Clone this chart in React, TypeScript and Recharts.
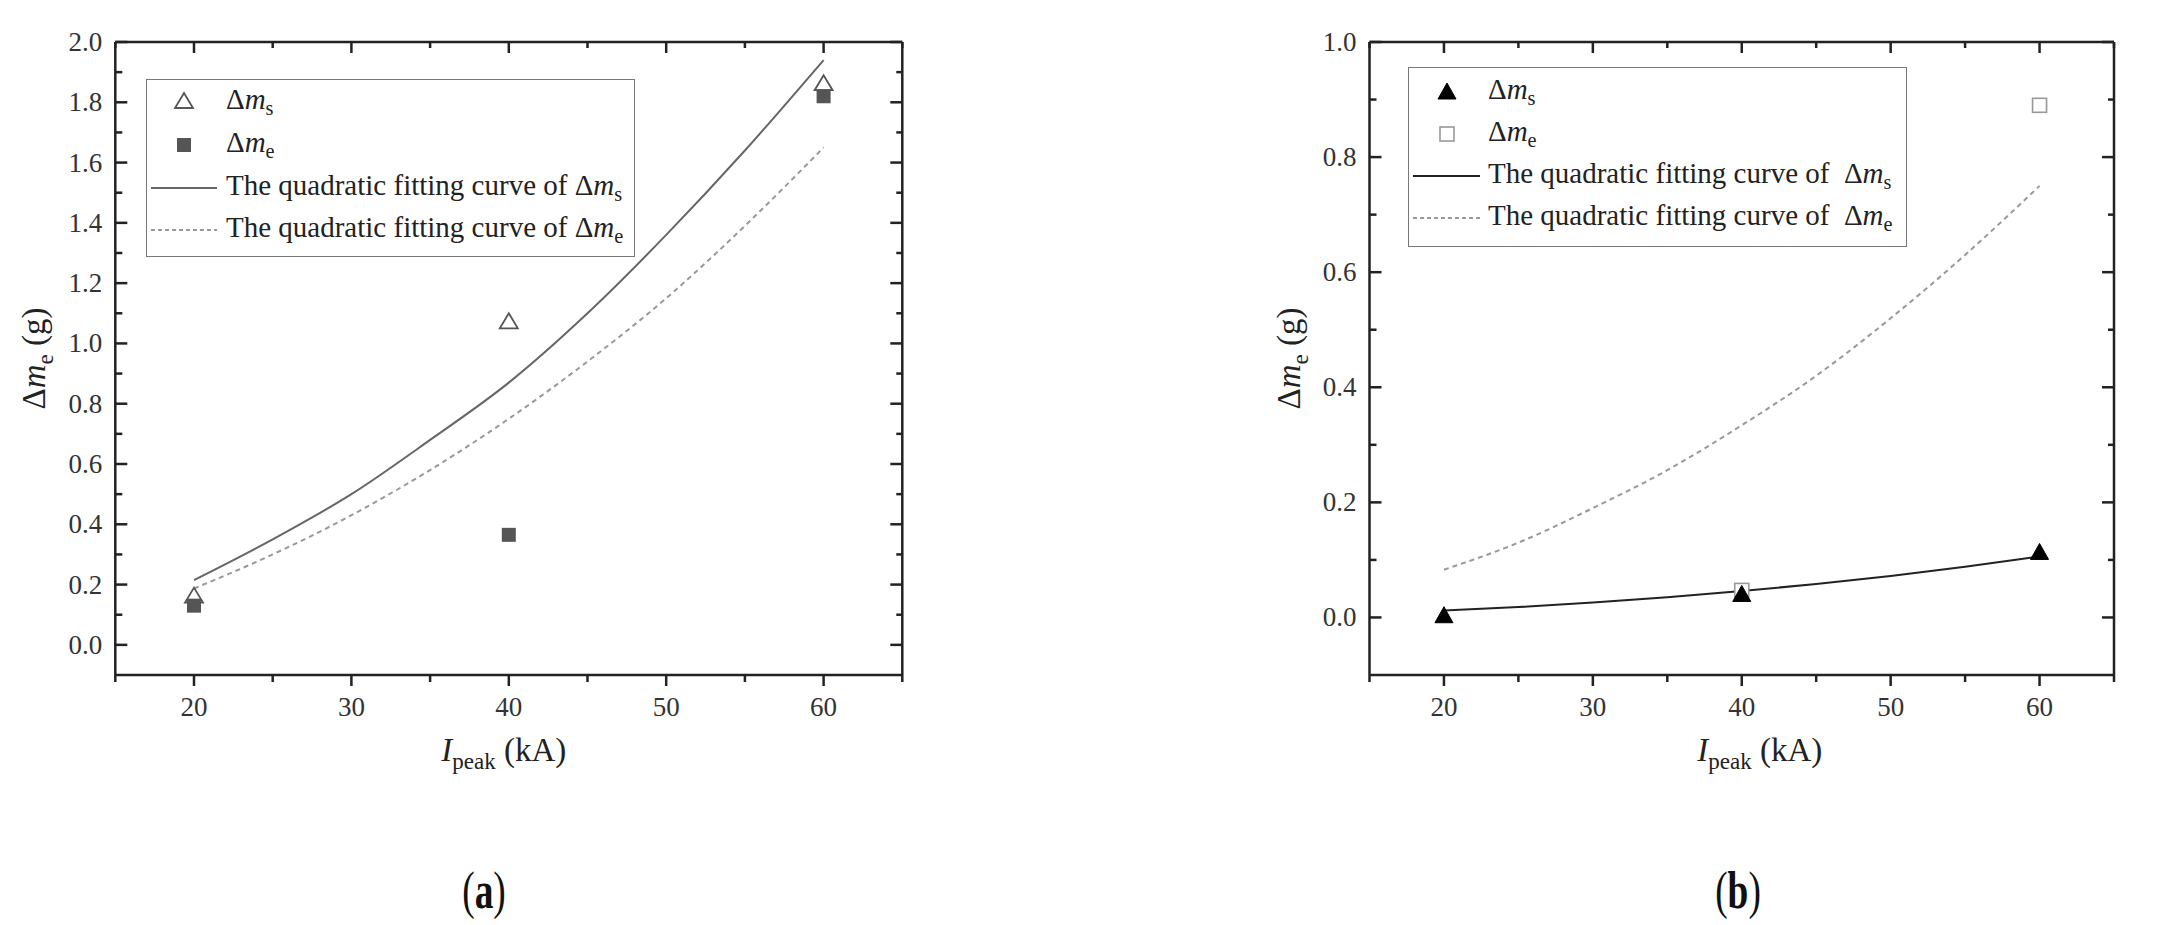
import React from 'react';
import { ComposedChart, Line, Scatter, XAxis, YAxis, Legend, Label } from 'recharts';

// measured points (kA -> g)
const currents = [20, 40, 60];
const aMs = [0.16, 1.07, 1.86];
const aMe = [0.13, 0.365, 1.82];
const bMs = [0.003, 0.04, 0.113];
const bMe = [null, 0.047, 0.89]; // 20 kA point is hidden under the triangle

// quadratic fitting curves, every 5 kA
const fitCurrents = [20, 25, 30, 35, 40, 45, 50, 55, 60];
const aFitMs = [0.215, 0.35, 0.5, 0.68, 0.87, 1.1, 1.36, 1.64, 1.94];
const aFitMe = [0.187, 0.3, 0.43, 0.58, 0.75, 0.94, 1.15, 1.39, 1.65];
const bFitMs = [0.012, 0.018, 0.026, 0.035, 0.046, 0.058, 0.072, 0.088, 0.106];
const bFitMe = [0.083, 0.13, 0.19, 0.256, 0.334, 0.42, 0.52, 0.63, 0.75];

// ticks
const xMajor = [20, 30, 40, 50, 60];
const xMinor = [15, 25, 35, 45, 55, 65];
const aYMajor = [0, 0.2, 0.4, 0.6, 0.8, 1.0, 1.2, 1.4, 1.6, 1.8, 2.0];
const aYMinor = [0.1, 0.3, 0.5, 0.7, 0.9, 1.1, 1.3, 1.5, 1.7, 1.9];
const bYMajor = [0, 0.2, 0.4, 0.6, 0.8, 1.0];
const bYMinor = [0.1, 0.3, 0.5, 0.7, 0.9];

const FONT = '"Liberation Serif", "Times New Roman", serif';
const AXIS = '#222';
const axisLine = { stroke: AXIS, strokeWidth: 2.5 };

const toPoints = (ys: (number | null)[]) =>
  currents.map((x, i) => ({ x, y: ys[i] })).filter((p) => p.y !== null);
const toFit = (s: number[], e: number[]) =>
  fitCurrents.map((x, i) => ({ x, fitMs: s[i], fitMe: e[i] }));
const allTicks = (a: number[], b: number[]) => [...a, ...b].sort((p, q) => p - q);
const isIn = (arr: number[], v: number) => arr.some((m) => Math.abs(m - v) < 1e-9);

type Side = 'bottom' | 'top' | 'left' | 'right';

// draws the tick line (major / minor) and, on bottom and left, the label
const makeTick = (side: Side, majors: number[], digits: number) => (props: any) => {
  const { x, y, payload } = props;
  const v = payload.value;
  const major = isIn(majors, v);
  const st = { stroke: AXIS, strokeWidth: 2.5 };
  if (side === 'bottom') {
    const len = major ? 11 : 7;
    return (
      <g>
        <line x1={x} x2={x} y1={y} y2={y + len} {...st} />
        {major && (
          <text x={x} y={y + 41} textAnchor="middle" fontFamily={FONT} fontSize={27} fill="#333">{v.toFixed(digits)}</text>
        )}
      </g>
    );
  }
  if (side === 'top') {
    const len = major ? 11 : 6;
    return <line x1={x} x2={x} y1={y} y2={y + len} {...st} />;
  }
  if (side === 'left') {
    const len = major ? 12 : 7;
    return (
      <g>
        <line x1={x} x2={x + len} y1={y} y2={y} {...st} />
        {major && (
          <text x={x - 13} y={y + 9} textAnchor="end" fontFamily={FONT} fontSize={27} fill="#333">{v.toFixed(digits)}</text>
        )}
      </g>
    );
  }
  const len = major ? 12 : 6;
  return <line x1={x} x2={x - len} y1={y} y2={y} {...st} />;
};

const OpenTriangle = ({ cx, cy }: any) => (
  <polygon points={`${cx},${cy - 9} ${cx + 9},${cy + 6} ${cx - 9},${cy + 6}`} fill="#fff" stroke="#555" strokeWidth={1.8} />
);
const FilledTriangle = ({ cx, cy }: any) => (
  <polygon points={`${cx},${cy - 9} ${cx + 9},${cy + 7} ${cx - 9},${cy + 7}`} fill="#000" stroke="#000" strokeWidth={1} />
);
const FilledSquare = ({ cx, cy }: any) => (
  <rect x={cx - 7} y={cy - 7} width={14} height={14} fill="#555" />
);
const OpenSquare = ({ cx, cy }: any) => (
  <rect x={cx - 7} y={cy - 7} width={14} height={14} fill="#fff" stroke="#999" strokeWidth={1.6} />
);

const Sub = ({ children }: any) => (
  <span style={{ fontSize: '0.7em', position: 'relative', top: '0.32em' }}>{children}</span>
);
const Dm = ({ s }: { s: string }) => (
  <span>Δ<i>m</i><Sub>{s}</Sub></span>
);

type Row = { mark: (cx: number, cy: number) => React.ReactNode; text: React.ReactNode };

const LegendBox = ({ rows, tops, w, h }: { rows: Row[]; tops: number[]; w: number; h: number }) => (
  <div style={{ position: 'relative', width: w, height: h, border: '1.5px solid #777', boxSizing: 'border-box', background: '#fff', fontFamily: FONT, fontSize: 29, color: '#222' }}>
    {rows.map((r, i) => (
      <div key={i} style={{ position: 'absolute', left: 0, top: tops[i] - 21, height: 42, width: w - 4, lineHeight: '42px', whiteSpace: 'nowrap' }}>
        <svg width={78} height={42} style={{ position: 'absolute', left: 0, top: 0 }}>{r.mark(37, 21)}</svg>
        <span style={{ position: 'absolute', left: 79, top: -3 }}>{r.text}</span>
      </div>
    ))}
  </div>
);

const fitText = (s: string, gap: string) => (
  <span>The quadratic fitting curve of{gap}<Dm s={s} /></span>
);

const legendA: Row[] = [
  { mark: (cx, cy) => <OpenTriangle cx={cx} cy={cy} />, text: <Dm s="s" /> },
  { mark: (cx, cy) => <FilledSquare cx={cx} cy={cy} />, text: <Dm s="e" /> },
  { mark: (cx, cy) => <line x1={4} x2={70} y1={cy} y2={cy} stroke="#666" strokeWidth={2} />, text: fitText('s', ' ') },
  { mark: (cx, cy) => <line x1={4} x2={70} y1={cy} y2={cy} stroke="#999" strokeWidth={2} strokeDasharray="4 3" />, text: fitText('e', ' ') },
];
const legendB: Row[] = [
  { mark: (cx, cy) => <FilledTriangle cx={cx + 1} cy={cy} />, text: <Dm s="s" /> },
  { mark: (cx, cy) => <OpenSquare cx={cx + 1} cy={cy} />, text: <Dm s="e" /> },
  { mark: (cx, cy) => <line x1={4} x2={71} y1={cy} y2={cy} stroke="#222" strokeWidth={2} />, text: fitText('s', ' \u00a0') },
  { mark: (cx, cy) => <line x1={4} x2={71} y1={cy} y2={cy} stroke="#999" strokeWidth={2} strokeDasharray="4 3" />, text: fitText('e', ' \u00a0') },
];

const XTitle = ({ viewBox, dx }: any) => (
  <text x={viewBox.x + viewBox.width / 2 + dx} y={viewBox.y + 86} textAnchor="middle" fontFamily={FONT} fontSize={33} fill="#222">
    <tspan fontStyle="italic">I</tspan>
    <tspan fontSize={23} dy={8}>peak</tspan>
    <tspan dy={-8}> (kA)</tspan>
  </text>
);

const YTitle = ({ viewBox, gap }: any) => {
  const x = viewBox.x + viewBox.width - gap;
  const y = viewBox.y + viewBox.height / 2;
  return (
    <text x={x} y={y} transform={`rotate(-90, ${x}, ${y})`} textAnchor="middle" fontFamily={FONT} fontSize={33} fill="#222">
      <tspan>Δ</tspan>
      <tspan fontStyle="italic">m</tspan>
      <tspan fontSize={23} dy={8}>e</tspan>
      <tspan dy={-8}> (g)</tspan>
    </text>
  );
};

function frame(yDomain: [number, number], yMajor: number[], yMinor: number[], yGap: number, xDx: number) {
  const xs = allTicks(xMajor, xMinor);
  const ys = allTicks(yMajor, yMinor);
  const common = { tickSize: 0, tickMargin: 0, tickLine: false, axisLine, interval: 0 as const, allowDataOverflow: true };
  return [
    <XAxis key="xb" xAxisId="b" type="number" dataKey="x" domain={[15, 65]} ticks={xs} height={40}
      tick={makeTick('bottom', xMajor, 0)} {...common}>
      <Label content={(p: any) => <XTitle {...p} dx={xDx} />} />
    </XAxis>,
    <XAxis key="xt" xAxisId="t" orientation="top" type="number" dataKey="x" domain={[15, 65]} ticks={xs} height={1}
      tick={makeTick('top', xMajor, 0)} {...common} />,
    <YAxis key="yl" yAxisId="l" type="number" domain={yDomain} ticks={ys} width={60}
      tick={makeTick('left', yMajor, 1)} {...common}>
      <Label content={(p: any) => <YTitle {...p} gap={yGap} />} />
    </YAxis>,
    <YAxis key="yr" yAxisId="r" orientation="right" type="number" domain={yDomain} ticks={ys} width={1}
      tick={makeTick('right', yMajor, 1)} {...common} />,
  ];
}

const Caption = ({ x, letter }: { x: number; letter: string }) => (
  <div style={{ position: 'absolute', left: x - 60, top: 869, width: 120, height: 44, lineHeight: '44px', textAlign: 'center', fontFamily: FONT, fontSize: 44, color: '#111', transform: 'scale(0.85, 1.2)' }}>
    (<b>{letter}</b>)
  </div>
);

export default function App() {
  return (
    <div style={{ position: 'absolute', left: 0, top: 0, width: 2180, height: 925, background: '#fff', overflow: 'hidden', fontFamily: FONT }}>
      <div style={{ position: 'absolute', left: 0, top: 0 }}>
        <ComposedChart width={960} height={800} data={toFit(aFitMs, aFitMe)}
          margin={{ top: 41, left: 55.3, right: 56.7, bottom: 85 }}>
          {frame([-0.1, 2.0], aYMajor, aYMinor, 70, -5)}
          <Line xAxisId="b" yAxisId="l" dataKey="fitMs" type="monotone" stroke="#666" strokeWidth={2} dot={false} isAnimationActive={false} />
          <Line xAxisId="b" yAxisId="l" dataKey="fitMe" type="monotone" stroke="#999" strokeWidth={2} strokeDasharray="5 4" dot={false} isAnimationActive={false} />
          <Scatter xAxisId="b" yAxisId="l" data={toPoints(aMs)} dataKey="y" shape={(p: any) => <OpenTriangle cx={p.cx} cy={p.cy} />} isAnimationActive={false} />
          <Scatter xAxisId="b" yAxisId="l" data={toPoints(aMe)} dataKey="y" shape={(p: any) => <FilledSquare cx={p.cx} cy={p.cy} />} isAnimationActive={false} />
          <Legend layout="horizontal" verticalAlign="middle" align="center"
            wrapperStyle={{ left: 146, top: 79, width: 489, height: 178 }}
            content={() => <LegendBox rows={legendA} tops={[22, 65, 108, 150]} w={489} h={178} />} />
        </ComposedChart>
      </div>
      <div style={{ position: 'absolute', left: 1260, top: 0 }}>
        <ComposedChart width={900} height={800} data={toFit(bFitMs, bFitMe)}
          margin={{ top: 41, left: 49.5, right: 45, bottom: 85 }}>
          {frame([-0.1, 1.0], bYMajor, bYMinor, 70, 18)}
          <Line xAxisId="b" yAxisId="l" dataKey="fitMs" type="monotone" stroke="#222" strokeWidth={2} dot={false} isAnimationActive={false} />
          <Line xAxisId="b" yAxisId="l" dataKey="fitMe" type="monotone" stroke="#999" strokeWidth={2} strokeDasharray="5 4" dot={false} isAnimationActive={false} />
          <Scatter xAxisId="b" yAxisId="l" data={toPoints(bMe)} dataKey="y" shape={(p: any) => <OpenSquare cx={p.cx} cy={p.cy} />} isAnimationActive={false} />
          <Scatter xAxisId="b" yAxisId="l" data={toPoints(bMs)} dataKey="y" shape={(p: any) => <FilledTriangle cx={p.cx} cy={p.cy} />} isAnimationActive={false} />
          <Legend layout="horizontal" verticalAlign="middle" align="center"
            wrapperStyle={{ left: 148, top: 67, width: 499, height: 180 }}
            content={() => <LegendBox rows={legendB} tops={[24, 66, 108, 150]} w={499} h={180} />} />
        </ComposedChart>
      </div>
      <Caption x={484} letter="a" />
      <Caption x={1738} letter="b" />
    </div>
  );
}
